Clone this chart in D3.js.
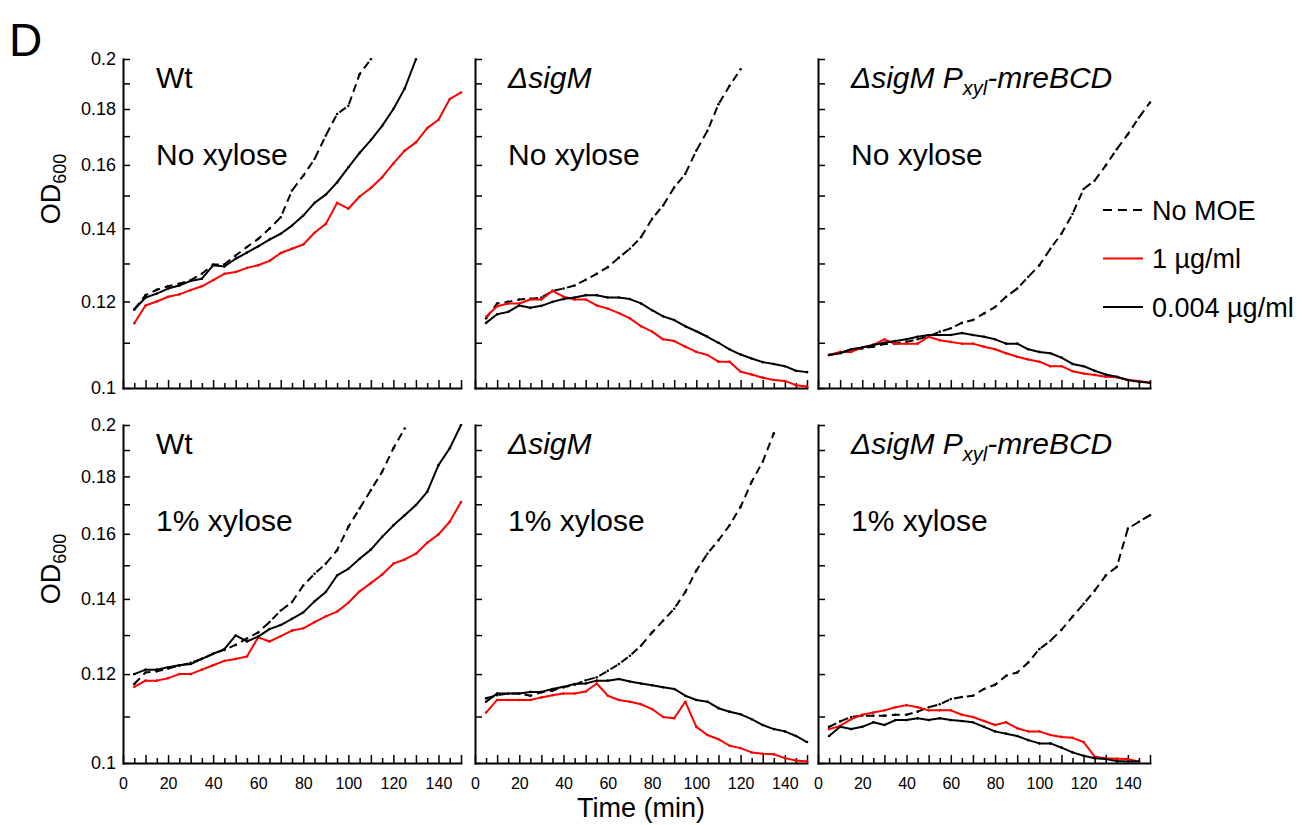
<!DOCTYPE html>
<html>
<head>
<meta charset="utf-8">
<title>OD600 growth curves</title>
<script src="https://d3js.org/d3.v7.min.js"></script>
<style>
    body { margin: 0; background: #fff; }
    svg text { font-family: "Liberation Sans", Arial, sans-serif; fill: #000; }
</style>
</head>
<body>
<div id="chart"></div>
<script>
// sampling times (min)
var times = [5,10,15,20,25,30,35,40,45,50,55,60,65,70,75,80,85,90,95,100,105,110,115,120,125,130,135,140,145,150];

// tick labels
var xTickLabels = [0,20,40,60,80,100,120,140];
var yTickLabels = ["0.1","0.12","0.14","0.16","0.18","0.2"];
var yTickValues = [0.1,0.11,0.12,0.13,0.14,0.15,0.16,0.17,0.18,0.19,0.2];

// legend
var seriesNames = ["No MOE", "1 \u00b5g/ml", "0.004 \u00b5g/ml"];

// Wt, no xylose
var wtNoXyl_noMOE = [0.1180,0.1216,0.1230,0.1239,0.1246,0.1255,0.1272,0.1297,0.1298,0.1322,0.1346,0.1369,0.1399,0.1433,0.1516,0.1564,0.1620,0.1702,0.1781,0.1812,0.1937,0.1999];
var wtNoXyl_1 = [0.1146,0.1190,0.1200,0.1212,0.1218,0.1229,0.1239,0.1255,0.1272,0.1277,0.1288,0.1295,0.1307,0.1329,0.1341,0.1353,0.1387,0.1413,0.1477,0.1459,0.1497,0.1524,0.1559,0.1605,0.1649,0.1678,0.1729,0.1760,0.1838,0.1864];
var wtNoXyl_004 = [0.1180,0.1210,0.1220,0.1233,0.1241,0.1253,0.1259,0.1295,0.1292,0.1313,0.1330,0.1348,0.1367,0.1384,0.1408,0.1438,0.1477,0.1503,0.1542,0.1592,0.1641,0.1686,0.1737,0.1800,0.1879,0.1999];

// sigM, no xylose
var sigMNoXyl_noMOE = [0.1158,0.1195,0.1199,0.1205,0.1207,0.1210,0.1227,0.1233,0.1241,0.1256,0.1272,0.1290,0.1316,0.1341,0.1374,0.1428,0.1469,0.1526,0.1570,0.1649,0.1719,0.1818,0.1890,0.1957];
var sigMNoXyl_1 = [0.1162,0.1188,0.1195,0.1195,0.1205,0.1205,0.1227,0.1212,0.1205,0.1205,0.1190,0.1182,0.1171,0.1158,0.1139,0.1126,0.1108,0.1104,0.1091,0.1079,0.1072,0.1057,0.1057,0.1035,0.1029,0.1022,0.1017,0.1015,0.1006,0.1003];
var sigMNoXyl_004 = [0.1147,0.1168,0.1174,0.1190,0.1184,0.1189,0.1199,0.1206,0.1210,0.1216,0.1216,0.1210,0.1210,0.1206,0.1195,0.1178,0.1163,0.1154,0.1139,0.1127,0.1114,0.1100,0.1085,0.1073,0.1064,0.1056,0.1052,0.1047,0.1037,0.1034];

// sigM Pxyl-mreBCD, no xylose
var pxylNoXyl_noMOE = [0.1072,0.1077,0.1085,0.1087,0.1091,0.1097,0.1098,0.1102,0.1108,0.1115,0.1126,0.1134,0.1147,0.1154,0.1170,0.1186,0.1212,0.1233,0.1264,0.1295,0.1341,0.1384,0.1443,0.1521,0.1548,0.1598,0.1654,0.1707,0.1768,0.1825];
var pxylNoXyl_1 = [0.1072,0.1079,0.1079,0.1089,0.1095,0.1108,0.1097,0.1098,0.1098,0.1114,0.1106,0.1102,0.1098,0.1098,0.1091,0.1085,0.1076,0.1068,0.1062,0.1057,0.1047,0.1047,0.1036,0.1031,0.1028,0.1024,0.1023,0.1017,0.1015,0.1011];
var pxylNoXyl_004 = [0.1072,0.1076,0.1085,0.1089,0.1095,0.1100,0.1104,0.1108,0.1114,0.1118,0.1118,0.1118,0.1123,0.1118,0.1114,0.1108,0.1098,0.1098,0.1085,0.1079,0.1076,0.1066,0.1052,0.1047,0.1037,0.1029,0.1024,0.1017,0.1013,0.1011];

// Wt, 1% xylose
var wtXyl_noMOE = [0.1176,0.1204,0.1207,0.1214,0.1221,0.1228,0.1238,0.1251,0.1261,0.1274,0.1291,0.1307,0.1335,0.1367,0.1391,0.1439,0.1474,0.1505,0.1547,0.1623,0.1685,0.1750,0.1817,0.1907,0.1986];
var wtXyl_1 = [0.1169,0.1184,0.1184,0.1190,0.1200,0.1200,0.1211,0.1222,0.1233,0.1238,0.1244,0.1294,0.1283,0.1297,0.1312,0.1318,0.1335,0.1351,0.1364,0.1389,0.1422,0.1446,0.1472,0.1505,0.1518,0.1536,0.1571,0.1598,0.1640,0.1708];
var wtXyl_004 = [0.1200,0.1211,0.1211,0.1217,0.1222,0.1225,0.1238,0.1251,0.1263,0.1299,0.1283,0.1296,0.1316,0.1327,0.1344,0.1362,0.1393,0.1420,0.1469,0.1489,0.1520,0.1549,0.1590,0.1628,0.1662,0.1697,0.1744,0.1842,0.1907,0.2000];

// sigM, 1% xylose
var sigMXyl_noMOE = [0.1142,0.1149,0.1153,0.1153,0.1148,0.1156,0.1160,0.1168,0.1174,0.1185,0.1192,0.1208,0.1225,0.1246,0.1272,0.1307,0.1339,0.1372,0.1420,0.1484,0.1536,0.1579,0.1628,0.1691,0.1780,0.1855,0.1966];
var sigMXyl_1 = [0.1109,0.1138,0.1138,0.1138,0.1138,0.1144,0.1149,0.1153,0.1153,0.1158,0.1177,0.1148,0.1138,0.1134,0.1128,0.1117,0.1099,0.1096,0.1134,0.1077,0.1059,0.1050,0.1036,0.1031,0.1022,0.1019,0.1018,0.1010,0.1005,0.1003];
var sigMXyl_004 = [0.1134,0.1153,0.1153,0.1153,0.1157,0.1157,0.1164,0.1169,0.1176,0.1177,0.1184,0.1184,0.1188,0.1182,0.1177,0.1173,0.1168,0.1164,0.1148,0.1138,0.1134,0.1119,0.1111,0.1105,0.1094,0.1081,0.1072,0.1067,0.1057,0.1044];

// sigM Pxyl-mreBCD, 1% xylose
var pxylXyl_noMOE = [0.1077,0.1089,0.1099,0.1102,0.1102,0.1102,0.1104,0.1104,0.1111,0.1121,0.1128,0.1140,0.1145,0.1148,0.1164,0.1174,0.1196,0.1204,0.1229,0.1263,0.1285,0.1314,0.1350,0.1386,0.1424,0.1469,0.1495,0.1617,0.1640,0.1662];
var pxylXyl_1 = [0.1072,0.1079,0.1094,0.1104,0.1109,0.1114,0.1121,0.1126,0.1121,0.1114,0.1114,0.1114,0.1104,0.1099,0.1090,0.1081,0.1087,0.1074,0.1067,0.1067,0.1059,0.1055,0.1053,0.1044,0.1013,0.1010,0.1009,0.1008,0.1003];
var pxylXyl_004 = [0.1057,0.1077,0.1072,0.1077,0.1087,0.1081,0.1092,0.1092,0.1096,0.1092,0.1096,0.1092,0.1090,0.1087,0.1077,0.1067,0.1062,0.1057,0.1048,0.1041,0.1041,0.1032,0.1022,0.1015,0.1010,0.1008,0.1004,0.1003,0.1003];

var panels = [
    { row: 0, col: 0, strain: "wt",   cond: "No xylose", s: [wtNoXyl_noMOE, wtNoXyl_1, wtNoXyl_004] },
    { row: 0, col: 1, strain: "sigM", cond: "No xylose", s: [sigMNoXyl_noMOE, sigMNoXyl_1, sigMNoXyl_004] },
    { row: 0, col: 2, strain: "pxyl", cond: "No xylose", s: [pxylNoXyl_noMOE, pxylNoXyl_1, pxylNoXyl_004] },
    { row: 1, col: 0, strain: "wt",   cond: "1% xylose", s: [wtXyl_noMOE, wtXyl_1, wtXyl_004] },
    { row: 1, col: 1, strain: "sigM", cond: "1% xylose", s: [sigMXyl_noMOE, sigMXyl_1, sigMXyl_004] },
    { row: 1, col: 2, strain: "pxyl", cond: "1% xylose", s: [pxylXyl_noMOE, pxylXyl_1, pxylXyl_004] }
];

// layout (pixels)
var colX = [[123, 461], [475, 807], [818, 1150]];
var rowY = [[388, 59], [763, 425]];
var colors = ["#000", "#ff0000", "#000"];

var svg = d3.select("#chart").append("svg")
    .attr("width", 1310).attr("height", 825);

svg.append("text").attr("x", 9).attr("y", 56)
    .style("font-size", "46px").text("D");

var defs = svg.append("defs");

panels.forEach(function(p, pi) {
    var x = d3.scaleLinear().domain([0, 150]).range(colX[p.col]);
    var y = d3.scaleLog().domain([0.1, 0.2]).range(rowY[p.row]);

    var g = svg.append("g");

    // y axis (ticks inward)
    var yAxis = d3.axisLeft(y)
        .tickValues(yTickValues)
        .tickSizeInner(-7).tickSizeOuter(0).tickPadding(7)
        .tickFormat(function(d) {
            if (p.col > 0) return "";
            var s = String(+d.toFixed(2));
            return yTickLabels.indexOf(s) >= 0 ? s : "";
        });
    var ya = g.append("g").attr("transform", "translate(" + colX[p.col][0] + ",0)").call(yAxis);
    ya.selectAll("text").style("font-size", "18px").style("font-family", "'Liberation Sans', Arial, sans-serif");

    // x axis
    var xAxis = d3.axisBottom(x)
        .tickValues(d3.range(0, 151, 5))
        .tickSizeInner(-8).tickSizeOuter(0).tickPadding(15)
        .tickFormat(function(d) {
            if (p.row === 0) return "";
            return xTickLabels.indexOf(d) >= 0 ? d : "";
        });
    var xa = g.append("g").attr("transform", "translate(0," + rowY[p.row][0] + ")").call(xAxis);
    xa.selectAll(".tick line").attr("y2", function(d) { return d % 10 === 0 ? -8 : -5; });
    xa.selectAll("text").style("font-size", "16px").style("font-family", "'Liberation Sans', Arial, sans-serif");

    g.selectAll(".domain").attr("stroke", "#000").attr("stroke-width", 2).attr("stroke-linecap", "square");
    g.selectAll(".tick line").attr("stroke", "#000").attr("stroke-width", 1.5);

    // clip
    defs.append("clipPath").attr("id", "clip" + pi).append("rect")
        .attr("x", colX[p.col][0]).attr("y", rowY[p.row][1] - 1)
        .attr("width", colX[p.col][1] - colX[p.col][0] + 2)
        .attr("height", rowY[p.row][0] - rowY[p.row][1] + 1);

    var plot = g.append("g").attr("clip-path", "url(#clip" + pi + ")");
    var line = d3.line()
        .x(function(d, i) { return x(times[i]); })
        .y(function(d) { return y(d); });

    [0, 1, 2].forEach(function(k) {
        var vals = p.s[k];
        plot.append("path")
            .attr("d", line(vals))
            .attr("fill", "none")
            .attr("stroke", colors[k])
            .attr("stroke-width", 2)
            .attr("stroke-linejoin", "round")
            .attr("stroke-dasharray", k === 0 ? "8,5" : null);
        plot.selectAll(null).data(vals).enter().append("circle")
            .attr("cx", function(d, i) { return x(times[i]); })
            .attr("cy", function(d) { return y(d); })
            .attr("r", 1.3)
            .attr("fill", colors[k]);
    });

    // labels
    var lx = colX[p.col][0] + 33;
    var t1 = g.append("text").attr("x", lx).attr("y", rowY[p.row][1] + 29)
        .style("font-size", "30px");
    if (p.strain === "wt") {
        t1.text("Wt");
    } else {
        t1.style("font-style", "italic");
        t1.append("tspan").text("\u0394sigM");
        if (p.strain === "pxyl") {
            t1.append("tspan").text(" P");
            t1.append("tspan").attr("dy", 7).style("font-size", "20px").text("xyl");
            t1.append("tspan").attr("dy", -7).text("-mreBCD");
        }
    }
    g.append("text").attr("x", lx).attr("y", rowY[p.row][1] + 106)
        .style("font-size", "30px").text(p.cond);
});

// y axis titles
[189, 569].forEach(function(cy) {
    var t = svg.append("text")
        .attr("transform", "translate(60," + cy + ") rotate(-90)")
        .attr("text-anchor", "middle")
        .style("font-size", "27px");
    t.append("tspan").text("OD");
    t.append("tspan").attr("dy", 6).style("font-size", "18px").text("600");
});

svg.append("text").attr("x", 641).attr("y", 817)
    .attr("text-anchor", "middle").style("font-size", "27px").text("Time (min)");

// legend
var legend = svg.append("g").attr("transform", "translate(1103,210)");
seriesNames.forEach(function(name, k) {
    var ly = k * 48.5;
    legend.append("line")
        .attr("x1", 0).attr("x2", 40).attr("y1", ly).attr("y2", ly)
        .attr("stroke", colors[k]).attr("stroke-width", 2)
        .attr("stroke-dasharray", k === 0 ? "9,6" : null);
    legend.append("text").attr("x", 49).attr("y", ly + 9.5)
        .style("font-size", "27px").text(name);
});
</script>
</body>
</html>
